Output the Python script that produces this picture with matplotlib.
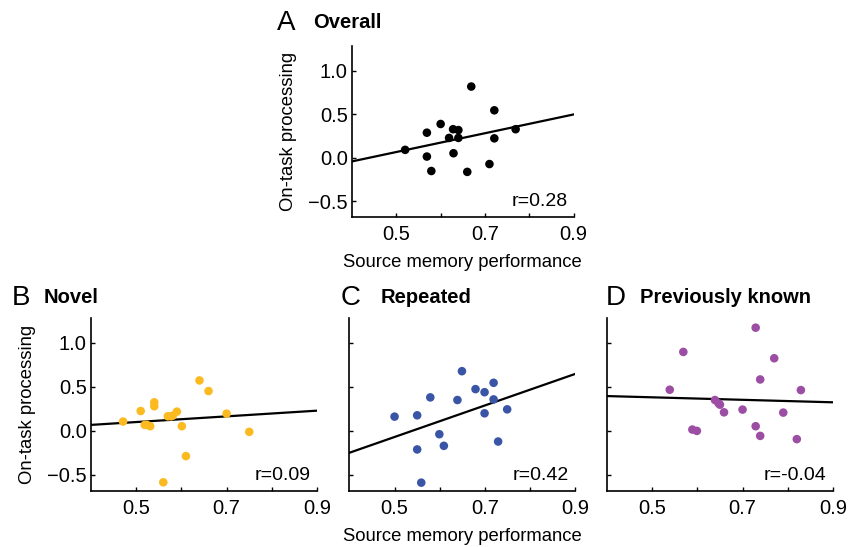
import matplotlib
matplotlib.use("Agg")
import matplotlib.pyplot as plt
import numpy as np

plt.rcParams["font.family"] = ["Liberation Sans", "DejaVu Sans"]

# Source memory performance (x) and on-task processing (y), per panel
overall_x = [0.520, 0.569, 0.569, 0.579, 0.600, 0.619, 0.628, 0.640, 0.640,
             0.629, 0.660, 0.669, 0.710, 0.721, 0.721, 0.769]
overall_y = [0.093, 0.290, 0.016, -0.150, 0.390, 0.230, 0.330, 0.320, 0.230,
             0.054, -0.160, 0.820, -0.070, 0.547, 0.225, 0.330]

novel_x = [0.471, 0.510, 0.519, 0.524, 0.531, 0.540, 0.540, 0.560, 0.570,
           0.577, 0.581, 0.590, 0.601, 0.610, 0.640, 0.660, 0.700, 0.750]
novel_y = [0.106, 0.226, 0.068, 0.068, 0.053, 0.325, 0.280, -0.585, 0.166,
           0.166, 0.174, 0.219, 0.053, -0.287, 0.574, 0.453, 0.196, -0.011]

repeated_x = [0.500, 0.550, 0.550, 0.559, 0.579, 0.599, 0.609, 0.639,
              0.649, 0.679, 0.699, 0.699, 0.719, 0.719, 0.729, 0.749]
repeated_y = [0.162, 0.177, -0.211, -0.589, 0.381, -0.038, -0.170, 0.351,
              0.679, 0.475, 0.440, 0.200, 0.547, 0.358, -0.121, 0.245]

known_x = [0.539, 0.569, 0.589, 0.599, 0.639, 0.647, 0.650, 0.659, 0.700,
           0.729, 0.729, 0.739, 0.739, 0.770, 0.790, 0.820, 0.829]
known_y = [0.468, 0.898, 0.015, 0.000, 0.351, 0.313, 0.298, 0.211, 0.242,
           1.174, 0.053, 0.585, -0.057, 0.826, 0.208, -0.094, 0.464]

# fitted line values at x=0.4 and x=0.9
fit_ends = {
    "A": (-0.04, 0.50),
    "B": (0.068, 0.23),
    "C": (-0.249, 0.649),
    "D": (0.396, 0.325),
}

r_labels = {"A": "r=0.28", "B": "r=0.09", "C": "r=0.42", "D": "r=-0.04"}
titles = {"A": "Overall", "B": "Novel", "C": "Repeated", "D": "Previously known"}
colors = {"A": "#000000", "B": "#FBBA20", "C": "#3A55A6", "D": "#9B4EA3"}

X_LIM = (0.4, 0.9)
Y_LIM = (-0.68, 1.28)

fig = plt.figure(figsize=(8.5, 5.47), dpi=100)

positions = {
    "A": [0.414, 0.603, 0.261, 0.312],
    "B": [0.107, 0.103, 0.266, 0.315],
    "C": [0.411, 0.103, 0.266, 0.315],
    "D": [0.714, 0.103, 0.266, 0.315],
}
# (letter x, title x, y) in axes coords
head_pos = {
    "A": (-0.34, -0.176, 1.14),
    "B": (-0.35, -0.21, 1.12),
    "C": (-0.04, 0.137, 1.12),
    "D": (-0.005, 0.147, 1.12),
}
data = {
    "A": (overall_x, overall_y),
    "B": (novel_x, novel_y),
    "C": (repeated_x, repeated_y),
    "D": (known_x, known_y),
}


def draw_panel(key, show_ylabels, show_xlabel, show_ylabel):
    ax = fig.add_axes(positions[key])
    xs, ys = data[key]
    ax.scatter(xs, ys, s=38, color=colors[key], edgecolors="none", zorder=3)
    y0, y1 = fit_ends[key]
    ax.plot(X_LIM, [y0, y1], color="black", lw=1.6, zorder=2)

    ax.set_xlim(*X_LIM)
    ax.set_ylim(*Y_LIM)
    ax.spines["top"].set_visible(False)
    ax.spines["right"].set_visible(False)
    ax.spines["left"].set_linewidth(1.2)
    ax.spines["bottom"].set_linewidth(1.2)

    ax.set_xticks([0.5, 0.6, 0.7, 0.8, 0.9])
    ax.set_xticklabels(["0.5", "", "0.7", "", "0.9"])
    ax.set_yticks([-0.5, 0.0, 0.5, 1.0])
    if show_ylabels:
        ax.set_yticklabels(["\u22120.5", "0.0", "0.5", "1.0"])
    else:
        ax.set_yticklabels([])
    ax.tick_params(direction="in", length=3, width=1, labelsize=14.5)
    ax.tick_params(axis="y", pad=3)
    ax.tick_params(axis="x", pad=6)

    if show_xlabel:
        ax.set_xlabel("Source memory performance", fontsize=13.3, labelpad=7)
    if show_ylabel:
        ax.set_ylabel("On-task processing", fontsize=13.3, labelpad=8)

    ax.text(0.972, 0.09, r_labels[key], transform=ax.transAxes,
            ha="right", va="center", fontsize=14)

    lx, tx, hy = head_pos[key]
    ax.text(lx, hy, key, transform=ax.transAxes,
            ha="left", va="center", fontsize=20)
    ax.text(tx, hy, titles[key], transform=ax.transAxes,
            ha="left", va="center", fontsize=14.5, fontweight="bold")
    return ax


draw_panel("A", True, True, True)
draw_panel("B", True, False, True)
draw_panel("C", False, True, False)
draw_panel("D", False, False, False)

fig.savefig("out.png", dpi=100)
